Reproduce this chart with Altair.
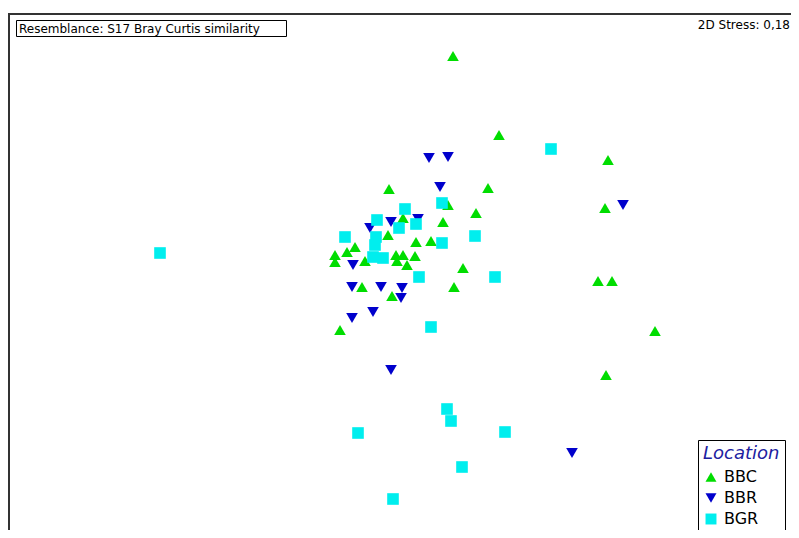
import altair as alt
import pandas as pd

# NMDS scores
bbc_x = [0.265, 0.495, 1.04, -0.055, 0.44, 1.025, 0.38, 0.24, 0.215, 0.015, -0.06, 0.08, 0.155,
         -0.225, -0.265, -0.325, -0.325, -0.175, -0.02, 0.015, 0.075, -0.015, 0.035, 0.315,
         0.99, 1.06, 0.27, -0.19, -0.04, -0.30, 1.275, 1.03]
bbc_y = [1.22, 0.825, 0.70, 0.555, 0.56, 0.46, 0.435, 0.475, 0.39, 0.41, 0.325, 0.29, 0.295,
         0.265, 0.24, 0.225, 0.19, 0.195, 0.225, 0.225, 0.22, 0.195, 0.175, 0.16,
         0.095, 0.095, 0.065, 0.065, 0.02, -0.15, -0.155, -0.375]

bbr_x = [0.145, 0.24, 0.20, 1.115, -0.045, 0.09, -0.15, -0.235, -0.24, -0.095, 0.01, 0.005,
         -0.135, -0.24, -0.045, 0.86]
bbr_y = [0.71, 0.715, 0.565, 0.475, 0.39, 0.405, 0.36, 0.175, 0.065, 0.065, 0.06, 0.01,
         -0.06, -0.09, -0.35, -0.765]

bgr_x = [-1.20, 0.755, 0.21, 0.025, -0.115, -0.005, 0.08, -0.275, -0.12, -0.125, 0.21, 0.375,
         -0.135, -0.085, 0.095, 0.475, 0.155, 0.235, 0.255, 0.525, -0.21, 0.31, -0.035]
bgr_y = [0.235, 0.755, 0.485, 0.455, 0.40, 0.36, 0.38, 0.315, 0.315, 0.275, 0.285, 0.32,
         0.215, 0.21, 0.115, 0.115, -0.135, -0.545, -0.605, -0.66, -0.665, -0.835, -0.995]

groups = ["BBC", "BBR", "BGR"]
colors = ["#00dd00", "#0000cc", "#00eeee"]
shapes = ["triangle-up", "triangle-down", "square"]

rows = []
for i, (xs, ys) in enumerate([(bbc_x, bbc_y), (bbr_x, bbr_y), (bgr_x, bgr_y)]):
    for x, y in zip(xs, ys):
        rows.append({"NMDS1": x, "NMDS2": y, "Location": groups[i], "order": i})
df = pd.DataFrame(rows)

W, H = 783, 517

points = alt.Chart(df).mark_point(filled=True, opacity=1, size=135, strokeWidth=0).encode(
    x=alt.X("NMDS1:Q", axis=None, scale=alt.Scale(domain=[-1.96, 1.955], nice=False, zero=False)),
    y=alt.Y("NMDS2:Q", axis=None, scale=alt.Scale(domain=[-1.15, 1.435], nice=False, zero=False)),
    color=alt.Color("Location:N", scale=alt.Scale(domain=groups, range=colors),
                    legend=alt.Legend(orient="none", legendX=690, legendY=427,
                                      title="Location", titleFont="DejaVu Sans",
                                      titleFontSize=18, titleFontStyle="italic",
                                      titleFontWeight="normal", titleColor="#2020a0",
                                      labelFont="DejaVu Sans", labelFontSize=16,
                                      labelColor="black", strokeColor="black",
                                      fillColor="white", padding=5, symbolSize=120,
                                      rowPadding=5, cornerRadius=0, symbolStrokeWidth=0,
                                      titlePadding=6, labelOffset=5)),
    shape=alt.Shape("Location:N", scale=alt.Scale(domain=groups, range=shapes)),
    order=alt.Order("order:Q"),
)

one = pd.DataFrame({"a": [0]})
frame_left = alt.Chart(one).mark_rule(color="#333333", strokeWidth=2).encode(
    x=alt.value(1), y=alt.value(0), y2=alt.value(H))
frame_top = alt.Chart(one).mark_rule(color="#333333", strokeWidth=2).encode(
    y=alt.value(1), x=alt.value(0), x2=alt.value(W))

box = alt.Chart(one).mark_rect(fill="white", stroke="black", strokeWidth=1).encode(
    x=alt.value(8.5), x2=alt.value(278.5), y=alt.value(7.5), y2=alt.value(23.5))
box_text = alt.Chart(one).mark_text(align="left", baseline="middle", font="DejaVu Sans",
                                    fontSize=12, color="black",
                                    text="Resemblance: S17 Bray Curtis similarity").encode(
    x=alt.value(11), y=alt.value(16))
stress = alt.Chart(one).mark_text(align="right", baseline="middle", font="DejaVu Sans",
                                  fontSize=12, color="black", text="2D Stress: 0,18").encode(
    x=alt.value(782), y=alt.value(12))

chart = alt.layer(points, frame_left, frame_top, box, box_text, stress).properties(
    width=W, height=H,
    autosize=alt.AutoSizeParams(type="none"),
    padding={"left": 0, "top": 5, "right": 0, "bottom": 0},
).configure_view(stroke=None)

chart.save("out.html", embed_options={"renderer": "svg", "actions": False})
